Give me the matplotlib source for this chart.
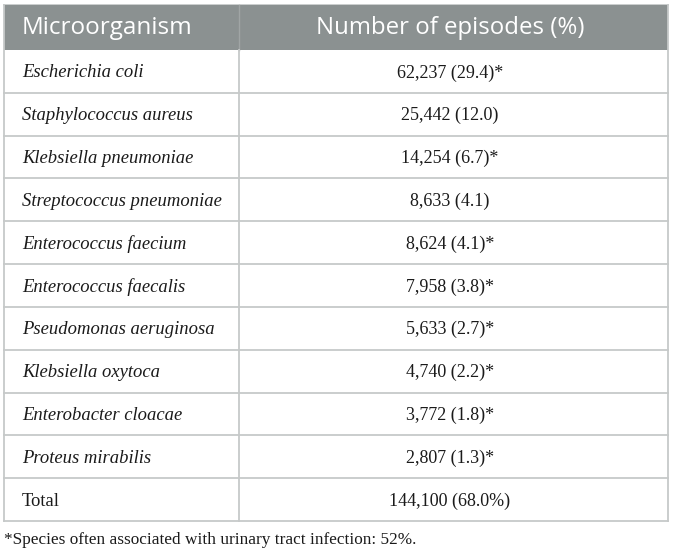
import matplotlib
matplotlib.use("Agg")
import matplotlib.pyplot as plt
from matplotlib.patches import Rectangle

headers = ["Microorganism", "Number of episodes (%)"]
organisms = ["Escherichia coli", "Staphylococcus aureus", "Klebsiella pneumoniae",
             "Streptococcus pneumoniae", "Enterococcus faecium", "Enterococcus faecalis",
             "Pseudomonas aeruginosa", "Klebsiella oxytoca", "Enterobacter cloacae",
             "Proteus mirabilis"]
episodes = ["62,237 (29.4)*", "25,442 (12.0)", "14,254 (6.7)*", "8,633 (4.1)",
            "8,624 (4.1)*", "7,958 (3.8)*", "5,633 (2.7)*", "4,740 (2.2)*",
            "3,772 (1.8)*", "2,807 (1.3)*"]
total_label = "Total"
total_value = "144,100 (68.0%)"
footnote = "*Species often associated with urinary tract infection: 52%."

W, H = 673, 554
fig = plt.figure(figsize=(W / 100, H / 100), dpi=100)
ax = fig.add_axes([0, 0, 1, 1])
ax.set_xlim(0, W)
ax.set_ylim(H, 0)
ax.axis("off")

left, right, div = 4, 668, 238.5
top, head_bot = 5, 50
bottom = 521
n_rows = len(organisms) + 1
row_h = (bottom - head_bot) / n_rows
line_c = "#c6c9c9"
head_c = "#8b9191"
txt_c = "#1a1a1a"

ax.add_patch(Rectangle((left, top), right - left, head_bot - top, facecolor=head_c,
                       edgecolor="none", zorder=1))
ax.plot([div, div], [top, head_bot], color="#a0a5a5", lw=1, zorder=2)
ax.text(22, (top + head_bot) / 2 + 0.5, headers[0], color="white", fontsize=17.5,
        family="Open Sans", va="center", ha="left")
ax.text(450, (top + head_bot) / 2 + 0.5, headers[1], color="white",
        fontsize=17.3, family="Open Sans", va="center", ha="center")

labels = organisms + [total_label]
values = episodes + [total_value]
for i, (lab, val) in enumerate(zip(labels, values)):
    y0 = head_bot + i * row_h
    yc = y0 + row_h / 2 + 1.5
    style = "italic" if i < len(organisms) else "normal"
    ax.text(22, yc, lab, fontsize=13.4, family="Liberation Serif", style=style,
            va="center", ha="left", color=txt_c)
    ax.text(450, yc, val, fontsize=13, family="Liberation Serif",
            va="center", ha="center", color=txt_c)
    ax.plot([left, right], [y0 + row_h, y0 + row_h], color=line_c, lw=1.3, zorder=2)

ax.plot([left, left], [top, bottom], color=line_c, lw=1.3, zorder=2)
ax.plot([right, right], [top, bottom], color=line_c, lw=1.3, zorder=2)
ax.plot([div, div], [head_bot, bottom], color=line_c, lw=1.3, zorder=2)
ax.plot([left, right], [top, top], color=line_c, lw=1.3, zorder=0)

ax.text(4, 540, footnote, fontsize=12.4, family="Liberation Serif", va="center",
        ha="left", color=txt_c)

fig.savefig("out.png", dpi=100, facecolor="white")
